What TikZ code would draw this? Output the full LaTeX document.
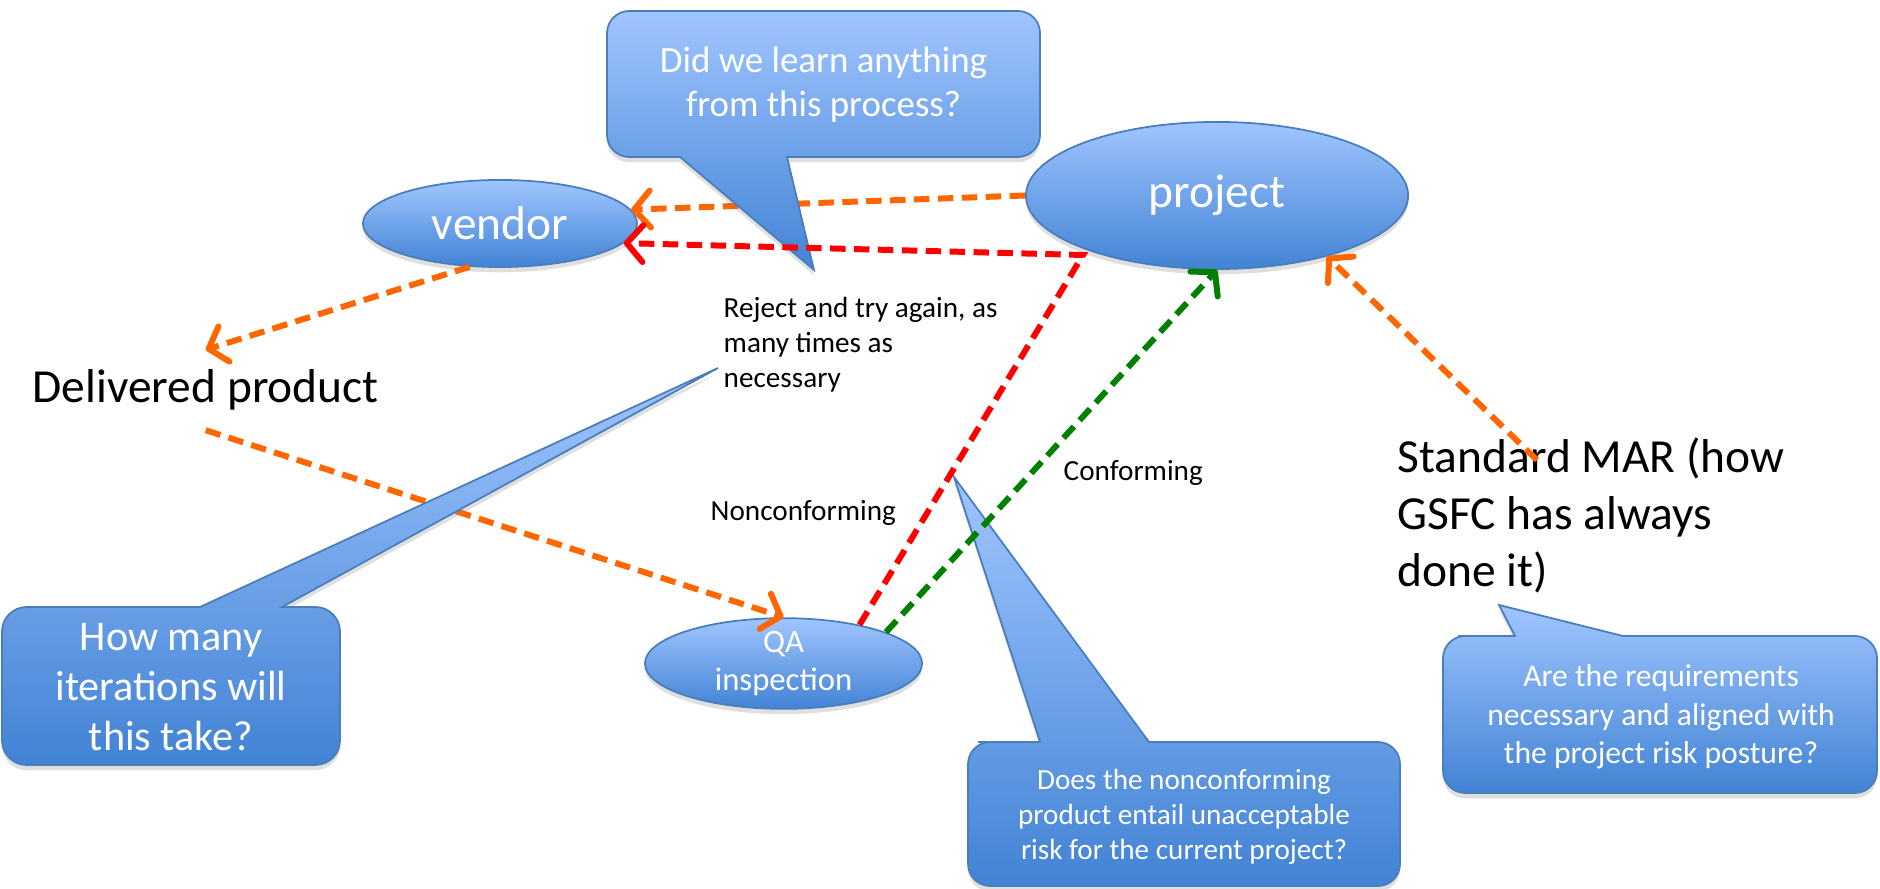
\documentclass[tikz,border=0pt]{standalone}
\usepackage{fontspec}
\setmainfont{Carlito}
\usetikzlibrary{shapes.geometric,arrows.meta,shadows}

\definecolor{boxtop}{RGB}{160,197,255}
\definecolor{boxbot}{RGB}{66,131,212}
\definecolor{boxline}{RGB}{74,126,187}
\definecolor{arrorange}{RGB}{255,102,0}
\definecolor{arrred}{RGB}{255,0,0}
\definecolor{arrgreen}{RGB}{0,128,0}

\begin{document}
\begin{tikzpicture}[x=0.01cm,y=-0.01cm,
    bubble/.style={draw=boxline,line width=0.5pt,top color=boxtop,bottom color=boxbot,
      drop shadow={opacity=0.25,shadow xshift=0pt,shadow yshift=-1.5pt}},
    oval/.style={bubble,ellipse,inner sep=0pt,text=white,align=center},
    flow/.style={line width=1.7pt,dash pattern=on 4.4pt off 2.4pt,
      -{Straight Barb[round,length=4.6pt,width=10.5pt]}},
    txt/.style={anchor=west,align=left,inner sep=0pt},
    qtext/.style={text=white,align=center,inner sep=0pt}]
  \useasboundingbox (0,0) rectangle (1880,889);

  % the three parties
  \node[oval,minimum width=2.74cm,minimum height=0.87cm,font=\fontsize{13.5}{16}\selectfont] (vendor) at (500,223.5) {vendor};
  \node[oval,minimum width=3.82cm,minimum height=1.47cm,font=\fontsize{13.5}{16}\selectfont] (project) at (1217,195.5) {project};
  \node[oval,minimum width=2.77cm,minimum height=0.87cm,font=\fontsize{9.3}{10.7}\selectfont] (qa) at (783.5,663.5) {QA\\inspection};

  % plain labels
  \node[txt,minimum height=0.79cm,font=\fontsize{13.5}{16}\selectfont] (deliv) at (32,390) {Delivered product};
  \node[txt,font=\fontsize{13.5}{16.2}\selectfont] (mar) at (1397,515) {Standard MAR (how\\GSFC has always\\done it)};
  \node[txt,font=\fontsize{8.3}{10}\selectfont] (reject) at (723,345) {Reject and try again, as\\many times as\\necessary};
  \node[txt,font=\fontsize{8.3}{10}\selectfont] (noncf) at (710,513) {Nonconforming};
  \node[txt,font=\fontsize{8.3}{10}\selectfont] (conf) at (1063,473) {Conforming};

  \coordinate (rjc) at (1083,255);
  \coordinate (marpt) at (1537,460);

  % orange flow
  \draw[flow,arrorange] (project.west) -- (vendor.6);
  \draw[flow,arrorange] (vendor.-125) -- (deliv.north);
  \draw[flow,arrorange] (deliv.south) -- (qa.north);
  \draw[flow,arrorange] (marpt) -- (project.-29);

  % callouts
  \draw[bubble,rounded corners=6.3pt] (607,157) -- (607,11) -- (1040,11) -- (1040,157) -- (900,157)
    [sharp corners] -- (787,157) -- (814,270) -- (680,157) -- (650,157) [rounded corners=6.3pt] -- cycle;
  \draw[bubble,rounded corners=7pt] (2,765) -- (2,607) -- (120,607) [sharp corners] -- (200,607)
    -- (718,368) -- (282,607) -- (310,607) [rounded corners=7pt] -- (340,607) -- (340,765) -- cycle;
  \draw[bubble,rounded corners=6.3pt] (968,886) -- (968,742) -- (1000,742) [sharp corners] -- (1040,742)
    -- (954,477) -- (1149,742) -- (1200,742) [rounded corners=6.3pt] -- (1400,742) -- (1400,886) -- cycle;
  \draw[bubble,rounded corners=6.3pt] (1443,793) -- (1443,636) -- (1480,636) [sharp corners] -- (1515,636)
    -- (1499,605) -- (1623,636) -- (1660,636) [rounded corners=6.3pt] -- (1877,636) -- (1877,793) -- cycle;

  \node[qtext,font=\fontsize{10.5}{12.6}\selectfont] (qlearn) at (823.5,85) {Did we learn anything\\from this process?};
  \node[qtext,font=\fontsize{12}{14.2}\selectfont] (qiter) at (171,687) {How many\\iterations will\\this take?};
  \node[qtext,font=\fontsize{8.3}{10}\selectfont] (qrisk) at (1184,817) {Does the nonconforming\\product entail unacceptable\\risk for the current project?};
  \node[qtext,font=\fontsize{9}{10.9}\selectfont] (qreq) at (1661,717) {Are the requirements\\necessary and aligned with\\the project risk posture?};

  % reject / accept
  \draw[flow,arrred] (qa.27) -- (rjc) -- (vendor.-9);
  \draw[flow,arrgreen] (qa.17) -- (project.south);
\end{tikzpicture}
\end{document}
